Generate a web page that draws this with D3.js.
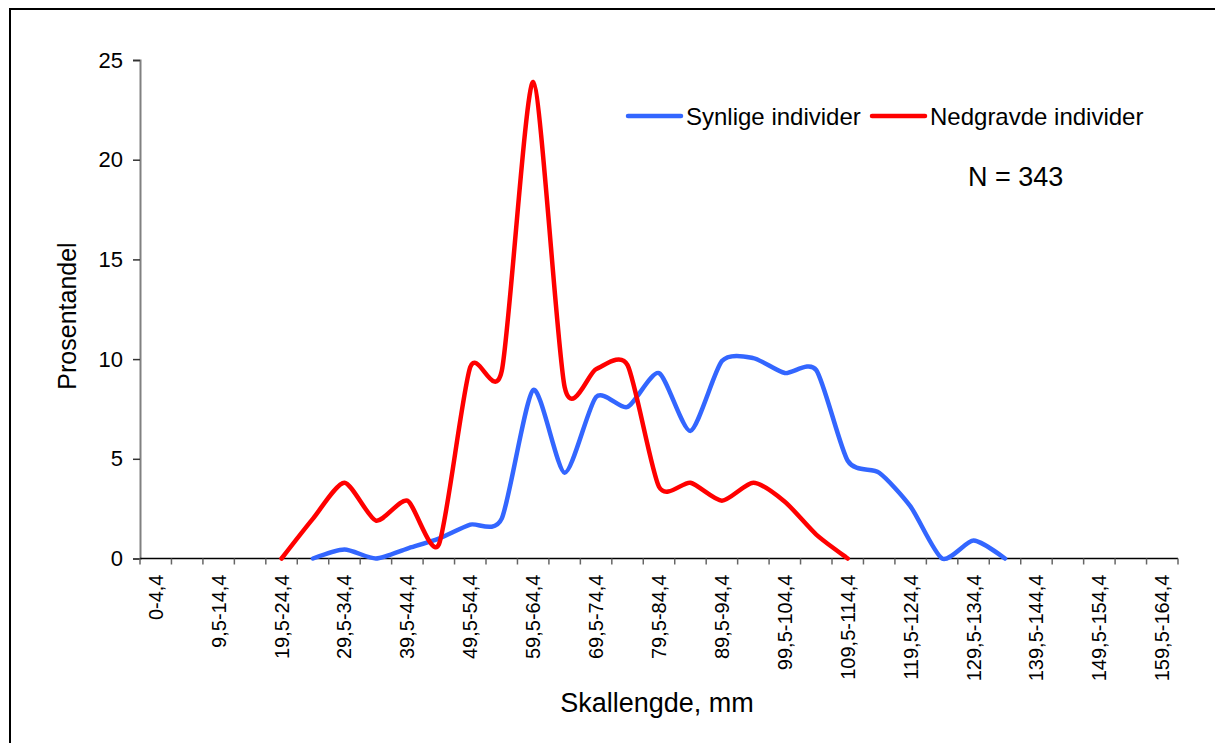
<!DOCTYPE html>
<html>
<head>
    <title>Skallengde</title>
    <script src="https://d3js.org/d3.v7.min.js"></script>
    <style>
        body { margin: 0; background: #fff; }
        text { font-family: "Liberation Sans", Arial, sans-serif; fill: #000; }
    </style>
</head>
<body>
    <div id="chart"></div>

    <script>
        // categories (length classes, mm)
        var categories = [
            "0-4,4", "4,5-9,4", "9,5-14,4", "14,5-19,4", "19,5-24,4", "24,5-29,4",
            "29,5-34,4", "34,5-39,4", "39,5-44,4", "44,5-49,4", "49,5-54,4", "54,5-59,4",
            "59,5-64,4", "64,5-69,4", "69,5-74,4", "74,5-79,4", "79,5-84,4", "84,5-89,4",
            "89,5-94,4", "94,5-99,4", "99,5-104,4", "104,5-109,4", "109,5-114,4", "114,5-119,4",
            "119,5-124,4", "124,5-129,4", "129,5-134,4", "134,5-139,4", "139,5-144,4", "144,5-149,4",
            "149,5-154,4", "154,5-159,4", "159,5-164,4"
        ];

        // percentages, null where the series has no value
        var synlige = [
            null, null, null, null, null, 0,
            0.45, 0, 0.5, 1.0, 1.7, 2.0,
            8.45, 4.3, 8.1, 7.6, 9.3, 6.4,
            9.9, 10.05, 9.3, 9.45, 4.9, 4.3,
            2.6, 0, 0.9, 0, null, null,
            null, null, null
        ];
        var nedgravde = [
            null, null, null, null, 0, 2.0,
            3.8, 1.9, 2.9, 0.7, 9.6, 9.4,
            23.9, 8.6, 9.5, 9.7, 3.6, 3.8,
            2.9, 3.8, 2.85, 1.2, 0, null,
            null, null, null, null, null, null,
            null, null, null
        ];
        var yTicks = [0, 5, 10, 15, 20, 25];
        var seriesNames = ["Synlige individer", "Nedgravde individer"];
        var seriesColors = ["#3366ff", "#ff0000"];

        var W = 1215, H = 743;
        var margin = {top: 60, right: 37, bottom: 184, left: 140},
            width = W - margin.left - margin.right,
            height = H - margin.top - margin.bottom;

        var svg = d3.select("#chart")
                    .append("svg")
                    .attr("width", W)
                    .attr("height", H);

        // outer frame
        svg.append("rect")
           .attr("x", 10).attr("y", 9)
           .attr("width", 1220).attr("height", 760)
           .attr("fill", "none")
           .attr("stroke", "#000")
           .attr("stroke-width", 2);

        var g = svg.append("g")
                   .attr("transform", "translate(" + margin.left + "," + margin.top + ")");

        var x = d3.scaleBand()
                  .domain(categories)
                  .range([0, width])
                  .padding(0);

        var y = d3.scaleLinear()
                  .domain([0, 25])
                  .range([height - 0.5, 0]);

        // y axis
        var yAxis = g.append("g")
           .call(d3.axisLeft(y).tickValues(yTicks).tickSize(7).tickPadding(10));
        yAxis.select(".domain").attr("stroke", "#808080").attr("stroke-width", 2);
        yAxis.selectAll(".tick line").attr("stroke", "#333").attr("stroke-width", 1.5);
        yAxis.selectAll("text").style("font-size", "22px");

        // x axis: ticks on category boundaries
        var xg = g.append("g").attr("transform", "translate(0," + y(0) + ")");
        xg.append("line")
          .attr("x1", 0).attr("x2", width)
          .attr("stroke", "#000").attr("stroke-width", 1.5);
        xg.selectAll("line.tk")
          .data(categories.concat(["end"]))
          .enter()
          .append("line")
          .attr("class", "tk")
          .attr("x1", function(d, i) { return i * x.step(); })
          .attr("x2", function(d, i) { return i * x.step(); })
          .attr("y1", 0).attr("y2", 6)
          .attr("stroke", "#666").attr("stroke-width", 1.5);
        xg.selectAll("text")
          .data(categories.filter(function(d, i) { return i % 2 === 0; }))
          .enter()
          .append("text")
          .attr("transform", function(d) {
              return "translate(" + (x(d) + x.bandwidth() / 2 + 7) + ",16) rotate(-90)";
          })
          .style("text-anchor", "end")
          .style("font-size", "20px")
          .text(function(d) { return d; });

        // axis titles
        svg.append("text")
           .attr("x", 657).attr("y", 712)
           .style("text-anchor", "middle")
           .style("font-size", "27px")
           .text("Skallengde, mm");

        svg.append("text")
           .attr("transform", "translate(76,316) rotate(-90)")
           .style("text-anchor", "middle")
           .style("font-size", "25px")
           .text("Prosentandel");

        // lines
        var line = d3.line()
                     .defined(function(d) { return d !== null; })
                     .x(function(d, i) { return x(categories[i]) + x.bandwidth() / 2; })
                     .y(function(d) { return y(d); })
                     .curve(d3.curveCardinal.tension(0.3));

        [synlige, nedgravde].forEach(function(s, k) {
            g.append("path")
             .datum(s)
             .attr("d", line)
             .attr("fill", "none")
             .attr("stroke", seriesColors[k])
             .attr("stroke-width", 4.5)
             .attr("stroke-linecap", "round")
             .attr("stroke-linejoin", "round");
        });

        // legend
        var legendX = [628, 872];
        seriesNames.forEach(function(name, k) {
            svg.append("line")
               .attr("x1", legendX[k]).attr("x2", legendX[k] + 53)
               .attr("y1", 116).attr("y2", 116)
               .attr("stroke", seriesColors[k])
               .attr("stroke-width", 4.5)
               .attr("stroke-linecap", "round");
            svg.append("text")
               .attr("x", legendX[k] + 58).attr("y", 125)
               .style("font-size", "24px")
               .text(name);
        });

        svg.append("text")
           .attr("x", 968).attr("y", 186)
           .style("font-size", "27px")
           .text("N = 343");
    </script>
</body>
</html>
